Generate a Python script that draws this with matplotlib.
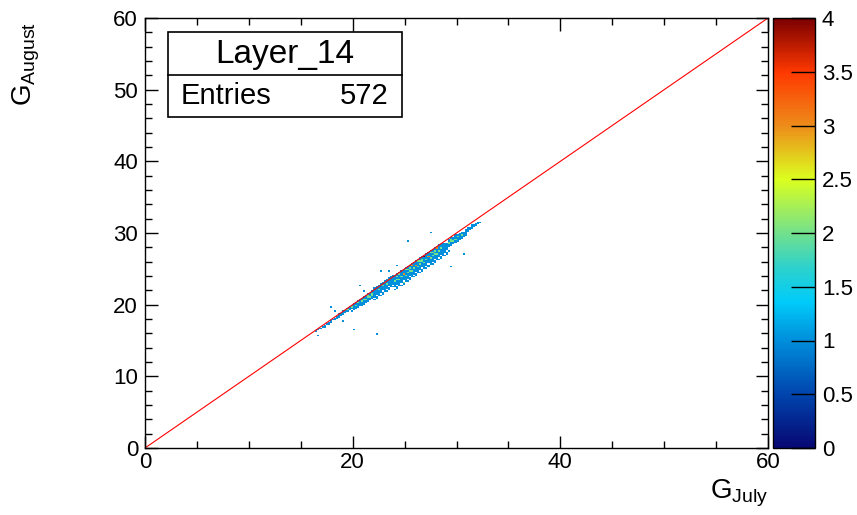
import numpy as np
import matplotlib
matplotlib.use("Agg")
import matplotlib.pyplot as plt
from matplotlib.colors import LinearSegmentedColormap, Normalize
from matplotlib.patches import Rectangle
from matplotlib.lines import Line2D
from matplotlib.ticker import MultipleLocator, FuncFormatter

plt.rcParams['font.family'] = ['Liberation Sans', 'DejaVu Sans']
plt.rcParams['mathtext.fontset'] = 'custom'
plt.rcParams['mathtext.rm'] = 'Liberation Sans'
plt.rcParams['mathtext.it'] = 'Liberation Sans'

# ---- histogram definition -------------------------------------------------
n_bins = 300
axis_min, axis_max = 0.0, 60.0
hist_title = "Layer_14"
entries = 572
z_max = 4
x_title = r"$\mathregular{G_{July}}$"
y_title = r"$\mathregular{G_{August}}$"

# Filled cells along the diagonal: for each x-bin centre, the centre of the
# lowest listed y-bin and the cell contents going upward one bin at a time.
band_x = [16.5, 16.7, 16.9, 17.1, 17.3, 17.5, 17.7, 17.9, 18.1, 18.3,
          18.5, 18.7, 18.9, 19.1, 19.3, 19.5, 19.7, 19.9,
          20.1, 20.3, 20.5, 20.7, 20.9, 21.1, 21.3, 21.5, 21.7, 21.9,
          22.1, 22.3, 22.5, 22.7, 22.9, 23.1, 23.3, 23.5, 23.7, 23.9,
          24.1, 24.3, 24.5, 24.7, 24.9, 25.1, 25.3, 25.5, 25.7, 25.9,
          26.1, 26.3, 26.5, 26.7, 26.9, 27.1, 27.3, 27.5, 27.7, 27.9,
          28.1, 28.3, 28.5, 28.7, 28.9, 29.1,
          29.3, 29.5, 29.7, 29.9, 30.1, 30.3, 30.5, 30.7, 30.9,
          31.1, 31.3, 31.5, 31.7, 31.9, 32.1, 32.3]
band_y0 = [16.3, 16.5, 16.7, 16.9, 16.9, 17.3, 17.3, 17.5, 17.9, 17.9,
           18.1, 18.3, 18.5, 18.7, 18.9, 19.1, 19.3, 19.5,
           19.3, 19.5, 19.7, 19.9, 19.9, 20.1, 20.3, 20.5, 20.7, 20.9,
           20.7, 20.9, 21.1, 21.3, 21.5, 21.7, 21.9, 22.1, 22.3, 22.5,
           22.1, 22.3, 22.5, 22.7, 22.9, 23.1, 23.3, 23.5, 23.7, 23.9,
           24.1, 24.3, 24.5, 24.7, 24.9, 25.1, 25.3, 25.5, 25.7, 25.9,
           26.1, 26.3, 26.5, 26.7, 26.9, 27.1,
           28.1, 28.3, 28.5, 28.7, 28.9, 29.1, 29.3, 29.5, 29.7,
           30.3, 30.5, 30.7, 30.9, 31.1, 31.3, 31.5]
band_counts = ["1", "1", "1", "1", "11", "1", "11", "11", "1", "11",
               "11", "111", "11", "111", "11", "121", "111", "121",
               "11111", "11211", "11121", "11111", "111211", "111211",
               "112111", "111221", "11211", "112211",
               "101111111", "110111111", "011112111", "101111111",
               "110111211", "011111121", "101112111", "110111121",
               "011111111", "101111111",
               "10111121111", "11011121211", "01111211121", "10111121111",
               "11011113111", "01111211121", "10111121211", "11011121211",
               "01111211131", "10111121111",
               "11011113111", "01111211121", "10111121211", "11011112211",
               "01111211141", "10111121111", "11011113111", "01111211121",
               "10111121211", "11011121211",
               "01111211131", "10111121111", "1101111211", "0111111111",
               "101111111", "11011111",
               "112211", "111221", "11211", "112111", "11121", "11111",
               "11211", "1111", "11111",
               "111", "11", "111", "11", "11", "11", "1"]

# Isolated single-entry cells away from the band
stray_x = [27.5, 25.3, 30.7, 29.5, 22.7, 23.5, 24.3, 20.7, 17.9,
           19.1, 20.1, 22.3, 16.7, 29.3, 24.9, 21.1, 19.9, 18.3]
stray_y = [30.1, 28.9, 27.1, 25.3, 24.7, 24.7, 25.5, 22.7, 19.7,
           17.7, 16.5, 15.9, 15.7, 27.5, 23.1, 21.9, 19.1, 19.1]

# Reference line y = x across the full range
diag = [axis_min, axis_max]

# ---- fill the 2D histogram ------------------------------------------------
edges = np.linspace(axis_min, axis_max, n_bins + 1)
width = (axis_max - axis_min) / n_bins
H = np.zeros((n_bins, n_bins))


def cell(v):
    return int(np.floor((v - axis_min) / width))


for x, y0, s in zip(band_x, band_y0, band_counts):
    for i, ch in enumerate(s):
        H[cell(y0 + i * width), cell(x)] += int(ch)
for x, y in zip(stray_x, stray_y):
    H[cell(y), cell(x)] += 1

Hm = np.ma.masked_equal(H, 0)

palette = LinearSegmentedColormap.from_list("rainbow_root", [
    (0.000, (0.03, 0.03, 0.45)),
    (0.125, (0.00, 0.27, 0.68)),
    (0.250, (0.00, 0.56, 0.86)),
    (0.340, (0.00, 0.80, 0.98)),
    (0.420, (0.18, 0.82, 0.80)),
    (0.500, (0.45, 0.88, 0.55)),
    (0.625, (0.86, 1.00, 0.12)),
    (0.750, (0.93, 0.55, 0.10)),
    (0.875, (1.00, 0.22, 0.00)),
    (1.000, (0.48, 0.00, 0.00)),
], N=256)

# ---- figure ---------------------------------------------------------------
W, Hpx = 857, 515
fig = plt.figure(figsize=(W / 100, Hpx / 100), dpi=100)


def fx(px):
    return px / W


def fy(py):
    return 1 - py / Hpx


ax = fig.add_axes([fx(145), fy(448), fx(768) - fx(145), fy(18) - fy(448)])
mesh = ax.pcolormesh(edges, edges, Hm, cmap=palette,
                     norm=Normalize(0, z_max), shading='flat')
ax.plot(diag, diag, color='red', lw=0.8)

ax.set_xlim(axis_min, axis_max)
ax.set_ylim(axis_min, axis_max)
ax.xaxis.set_major_locator(MultipleLocator(20))
ax.xaxis.set_minor_locator(MultipleLocator(5))
ax.yaxis.set_major_locator(MultipleLocator(10))
ax.yaxis.set_minor_locator(MultipleLocator(2))
ax.tick_params(which='both', direction='in', top=True, right=True,
               labelsize=16, width=1)
ax.tick_params(which='major', length=9)
ax.tick_params(which='minor', length=5)
ax.tick_params(axis='x', pad=3)
ax.tick_params(axis='y', pad=5)
for sp in ax.spines.values():
    sp.set_linewidth(1)

ax.set_xlabel(x_title, fontsize=20, loc='right')
ax.xaxis.set_label_coords(1.0, -0.07)
ax.set_ylabel(y_title, fontsize=20, loc='top')
ax.yaxis.label.set_va('center')
ax.yaxis.set_label_coords(-0.19, 0.99)

# palette axis
cax = fig.add_axes([fx(773), fy(448), fx(815) - fx(773), fy(18) - fy(448)])
cb = fig.colorbar(mesh, cax=cax, ticks=np.arange(0, z_max + 0.01, 0.5))
cb.ax.yaxis.set_major_formatter(FuncFormatter(lambda v, p: f"{v:g}"))
cb.ax.tick_params(direction='in', length=17, width=1, labelsize=16, pad=5)
cb.outline.set_linewidth(1)
cb.ax.minorticks_off()

# statistics box
fig.patches.append(Rectangle((fx(168), fy(117)), fx(402) - fx(168),
                             fy(32) - fy(117), transform=fig.transFigure,
                             facecolor='white', edgecolor='black', lw=1.2,
                             zorder=5))
fig.lines.append(Line2D([fx(168), fx(402)], [fy(75), fy(75)],
                        transform=fig.transFigure, color='black', lw=1.2,
                        zorder=6))
fig.text(fx(285), fy(54), hist_title, ha='center', va='center',
         fontsize=24, zorder=7)
fig.text(fx(181), fy(96), "Entries", ha='left', va='center',
         fontsize=21, zorder=7)
fig.text(fx(389), fy(96), f"{int(H.sum()):d}", ha='right', va='center',
         fontsize=21, zorder=7)

fig.savefig("out.png", dpi=100)
